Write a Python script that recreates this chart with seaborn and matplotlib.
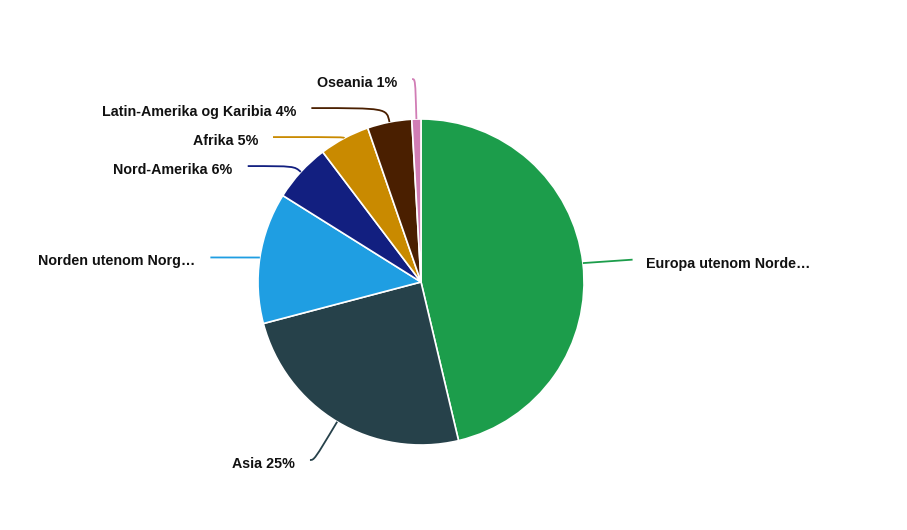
import numpy as np
import matplotlib.pyplot as plt
import seaborn as sns
from matplotlib.path import Path
from matplotlib.patches import PathPatch

# Data (share of immigrants by region, %)
regions = ['Europa utenom Norden', 'Asia', 'Norden utenom Norge', 'Nord-Amerika',
           'Afrika', 'Latin-Amerika og Karibia', 'Oseania']
shares = [46.3, 24.6, 13.0, 5.8, 5.0, 4.4, 0.9]
colors = ['#1c9d4b', '#26414a', '#1f9ee2', '#121f80', '#c98a00', '#4a1f00', '#d17db5']
crop_chars = [19, None, 18, None, None, None, None]  # labels cut with an ellipsis

sns.set_style('white')
plt.rcParams['font.family'] = ['Liberation Sans', 'DejaVu Sans']

W, H = 907, 530
fig = plt.figure(figsize=(W / 100, H / 100), dpi=100)
ax = fig.add_axes([0, 0, 1, 1])

# pixel-like coordinates with y pointing down
cx, cy, r = 421, 282, 163
wedges, _ = ax.pie(shares, colors=colors, startangle=-90, counterclock=True,
                   radius=r, center=(cx, cy),
                   wedgeprops=dict(edgecolor='white', linewidth=1.2))
ax.set_xlim(0, W)
ax.set_ylim(H, 0)
ax.set_aspect('equal')
ax.axis('off')

# Highcharts-like data label layout
r_label = r + 47
spacing = 29
bottom_limit = H - 70
items = []
for w, name, v, col, n in zip(wedges, regions, shares, colors, crop_chars):
    theta = np.deg2rad((w.theta1 + w.theta2) / 2)
    d = np.array([np.cos(theta), np.sin(theta)])
    text = f'{name} {round(v)}%'
    if n is not None:
        text = text[:n] + '…'
    items.append(dict(d=d, anchor=np.array([cx, cy]) + r * d, y=cy + r_label * d[1],
                      left=d[0] < 0, text=text, color=col))

for side in (True, False):
    group = sorted([i for i in items if i['left'] == side], key=lambda i: i['y'])
    for prev, cur in zip(group, group[1:]):
        cur['y'] = max(cur['y'], prev['y'] + spacing)

for it in items:
    sign = -1 if it['left'] else 1
    y_line = min(it['y'] + (7 if it['left'] else 2), bottom_limit)
    x_end = cx + sign * (np.sqrt(max(r_label ** 2 - (it['y'] - cy) ** 2, 0)) + 3)
    d, a = it['d'], it['anchor']
    start = np.array([x_end, y_line])
    if abs(d[1]) < 0.3:
        corner = start  # nearly horizontal slices: straight connector
    else:
        t = np.clip((y_line - a[1]) / d[1], 0, r_label - r)
        corner = a + t * d
    path = Path([start, corner, corner, a],
                [Path.MOVETO, Path.CURVE4, Path.CURVE4, Path.CURVE4])
    ax.add_patch(PathPatch(path, facecolor='none', edgecolor=it['color'], lw=1.3))
    ax.text(x_end + sign * (13 if sign > 0 else 15), y_line + 8, it['text'],
            ha='left' if sign > 0 else 'right', va='baseline',
            fontsize=10.3, fontweight='bold', color='#111111')

fig.savefig('out.png', dpi=100, facecolor='white')
